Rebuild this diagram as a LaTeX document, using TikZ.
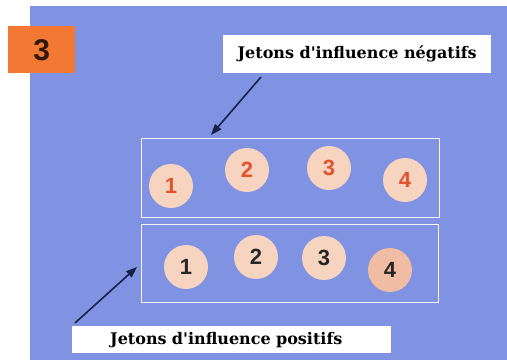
\documentclass[tikz,border=0pt]{standalone}
\usepackage{fontspec}
\setmainfont{DejaVu Serif}[Ligatures=TeXOff]
\setsansfont{Liberation Sans}
\usetikzlibrary{arrows.meta}
\definecolor{bgblue}{RGB}{128,146,226}
\definecolor{tokfill}{RGB}{246,212,192}
\definecolor{tokfilltwo}{RGB}{240,188,164}
\definecolor{negred}{RGB}{226,82,44}
\definecolor{numorange}{RGB}{242,120,52}
\definecolor{arrowdark}{RGB}{22,34,70}
\begin{document}
\begin{tikzpicture}[x=1pt,y=-1pt,
  token/.style={circle,fill=tokfill,minimum size=44pt,inner sep=0pt,font=\sffamily\bfseries\fontsize{22}{22}\selectfont},
  negtok/.style={token,text=negred},
  postok/.style={token,text=black!85},
  frame/.style={draw=white!90!bgblue,line width=1.2pt},
  labelbox/.style={fill=white,inner sep=0pt,font=\bfseries\fontsize{16}{16}\selectfont,text=black},
  pointer/.style={draw=arrowdark,line width=1.6pt,-{Triangle[length=11pt,width=8pt]}}]
\useasboundingbox (0,0) rectangle (507,360);
\fill[white] (0,0) rectangle (507,360);
\fill[bgblue] (30,6) rectangle (507,360);
% number box
\node[fill=numorange,minimum width=67pt,minimum height=47pt,inner sep=0pt,anchor=north west,font=\sffamily\bfseries\fontsize{30}{30}\selectfont,text=black!80!numorange] (num) at (8,26) {3};
% frames
\node[frame,minimum width=298pt,minimum height=79pt,anchor=north west] (negframe) at (141,138) {};
\node[frame,minimum width=297pt,minimum height=78pt,anchor=north west] (posframe) at (141,224) {};
% labels
\node[labelbox,minimum width=268pt,minimum height=38pt,anchor=north west] (neglabel) at (223,35) {Jetons d'influence négatifs};
\node[labelbox,minimum width=319pt,minimum height=27pt,anchor=north west,text width=319pt,align=left] (poslabel) at (72,326) {\hspace*{38pt}Jetons d'influence positifs};
% negative tokens
\node[negtok] (n1) at (171,186) {1};
\node[negtok] (n2) at (247,170) {2};
\node[negtok] (n3) at (329,168) {3};
\node[negtok] (n4) at (405,180) {4};
% positive tokens
\node[postok] (p1) at (186,267) {1};
\node[postok] (p2) at (256,257) {2};
\node[postok] (p3) at (324,258) {3};
\node[postok,fill=tokfilltwo] (p4) at (390,270) {4};
% arrows
\coordinate (a1) at (261,77);
\coordinate (a1t) at (211,135);
\coordinate (a2) at (75,323);
\coordinate (a2t) at (137,267);
\draw[pointer] (a1) -- (a1t);
\draw[pointer] (a2) -- (a2t);
\end{tikzpicture}
\end{document}
